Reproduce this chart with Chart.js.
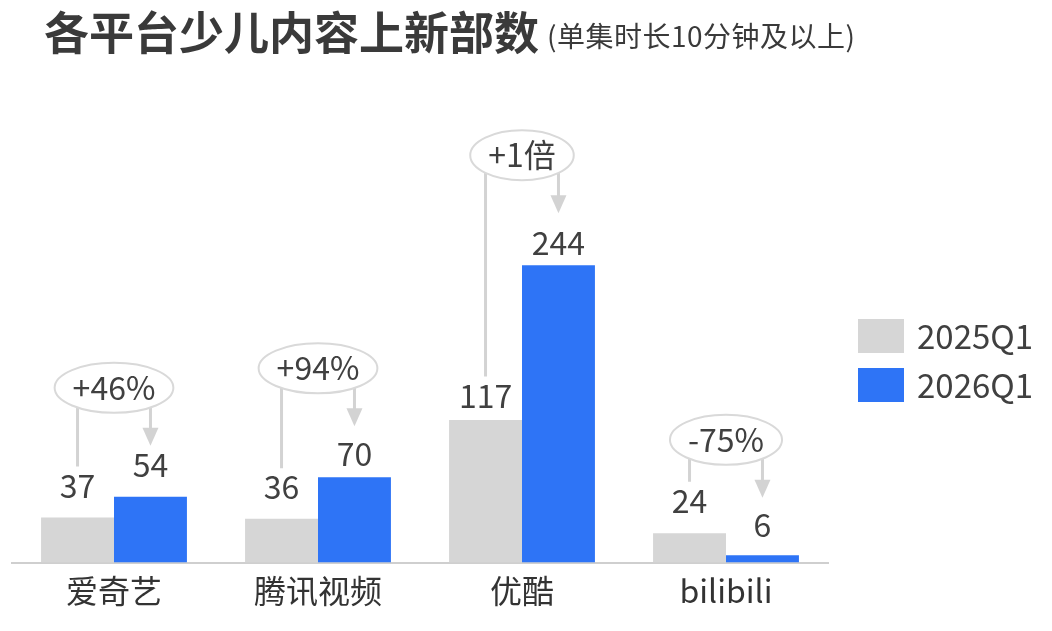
<!DOCTYPE html>
<html><head><meta charset="utf-8">
<script src="https://cdn.jsdelivr.net/npm/chart.js@4.4.0/dist/chart.umd.min.js"></script>
<style>html,body{margin:0;padding:0;background:#fff}#wrap{width:1052px;height:631px;position:relative}</style>
</head><body><div id="wrap"><canvas id="c" width="1052" height="631"></canvas></div>
<script>
const titleText = '各平台少儿内容上新部数';
const subtitleText = '(单集时长10分钟及以上)';
const categories = ['爱奇艺', '腾讯视频', '优酷', 'bilibili'];
const seriesNames = ['2025Q1', '2026Q1'];
const values2025 = [37, 36, 117, 24];
const values2026 = [54, 70, 244, 6];
const changeLabels = ['+46%', '+94%', '+1倍', '-75%'];

const FONT = "'Noto Sans CJK SC', 'Noto Sans', sans-serif";
const TEXT = '#404040';
const GRAY = '#d6d6d6';
const BLUE = '#2e74f6';
const LINE = '#d3d3d3';

const overlay = {
  id: 'overlay',
  afterDraw(chart, args, opts) {
    const ctx = chart.ctx;
    ctx.save();
    // title
    ctx.fillStyle = '#3a3a3a';
    ctx.textBaseline = 'middle';
    ctx.textAlign = 'left';
    ctx.font = 'bold 45px ' + FONT;
    ctx.fillText(titleText, 44, 33);
    ctx.font = '28px ' + FONT;
    if ('letterSpacing' in ctx) ctx.letterSpacing = '0.5px';
    ctx.fillText(subtitleText, 547, 36);
    if ('letterSpacing' in ctx) ctx.letterSpacing = '0px';

    // legend
    chart.data.datasets.forEach((ds, i) => {
      const y = 319 + i * 49;
      ctx.fillStyle = ds.backgroundColor;
      ctx.fillRect(858, y, 46, 34);
      ctx.fillStyle = TEXT;
      ctx.font = '33px ' + FONT;
      ctx.textAlign = 'left';
      ctx.textBaseline = 'middle';
      ctx.fillText(ds.label, 917, y + 17);
    });

    const m0 = chart.getDatasetMeta(0), m1 = chart.getDatasetMeta(1);
    const gaps = opts.gaps, rise = opts.rise;
    categories.forEach((c, i) => {
      const b0 = m0.data[i], b1 = m1.data[i];
      const yG = b0.y - gaps[0][i];
      const yB = b1.y - gaps[1][i];
      const ey = yB - rise[i];
      const cx = (b0.x + b1.x) / 2;
      // connectors
      ctx.strokeStyle = LINE;
      ctx.lineWidth = 3;
      ctx.beginPath();
      ctx.moveTo(b0.x, ey);
      ctx.lineTo(b0.x, yG - 19);
      ctx.moveTo(b1.x, ey);
      ctx.lineTo(b1.x, ey + 42);
      ctx.stroke();
      ctx.fillStyle = LINE;
      ctx.beginPath();
      ctx.moveTo(b1.x - 8, ey + 40);
      ctx.lineTo(b1.x + 8, ey + 40);
      ctx.lineTo(b1.x, ey + 58);
      ctx.closePath();
      ctx.fill();
      // ellipse
      ctx.font = '32px ' + FONT;
      const w = ctx.measureText(changeLabels[i]).width;
      ctx.beginPath();
      ctx.ellipse(cx, ey, (w + 36) / 2, 25, 0, 0, Math.PI * 2);
      ctx.fillStyle = '#ffffff';
      ctx.fill();
      ctx.strokeStyle = '#d9d9d9';
      ctx.lineWidth = 2;
      ctx.stroke();
      ctx.fillStyle = TEXT;
      ctx.textAlign = 'center';
      ctx.textBaseline = 'middle';
      ctx.fillText(changeLabels[i], cx, ey);
      // value labels
      ctx.fillText(String(values2025[i]), b0.x, yG);
      ctx.fillText(String(values2026[i]), b1.x, yB);
    });
    ctx.restore();
  }
};

new Chart(document.getElementById('c'), {
  type: 'bar',
  data: {
    labels: categories,
    datasets: [
      { label: seriesNames[0], data: values2025, backgroundColor: GRAY, borderWidth: 0, categoryPercentage: 0.715, barPercentage: 1.0 },
      { label: seriesNames[1], data: values2026, backgroundColor: BLUE, borderWidth: 0, categoryPercentage: 0.715, barPercentage: 1.0 }
    ]
  },
  options: {
    responsive: false,
    animation: false,
    devicePixelRatio: 1,
    layout: { padding: { left: 12, right: 224, top: 197, bottom: 12 } },
    plugins: {
      legend: { display: false },
      tooltip: { enabled: false },
      overlay: {
        gaps: [[32, 31.5, 24.5, 32.5], [32, 23, 22, 30.5]],
        rise: [77, 86, 88, 85]
      }
    },
    scales: {
      x: {
        grid: { display: false, drawTicks: false },
        border: { display: true, color: '#cfcfcf', width: 2 },
        ticks: { color: '#333333', font: { family: FONT, size: 32 }, padding: 9 }
      },
      y: { display: false, min: 0, max: 300 }
    }
  },
  plugins: [overlay]
});
</script></body></html>
